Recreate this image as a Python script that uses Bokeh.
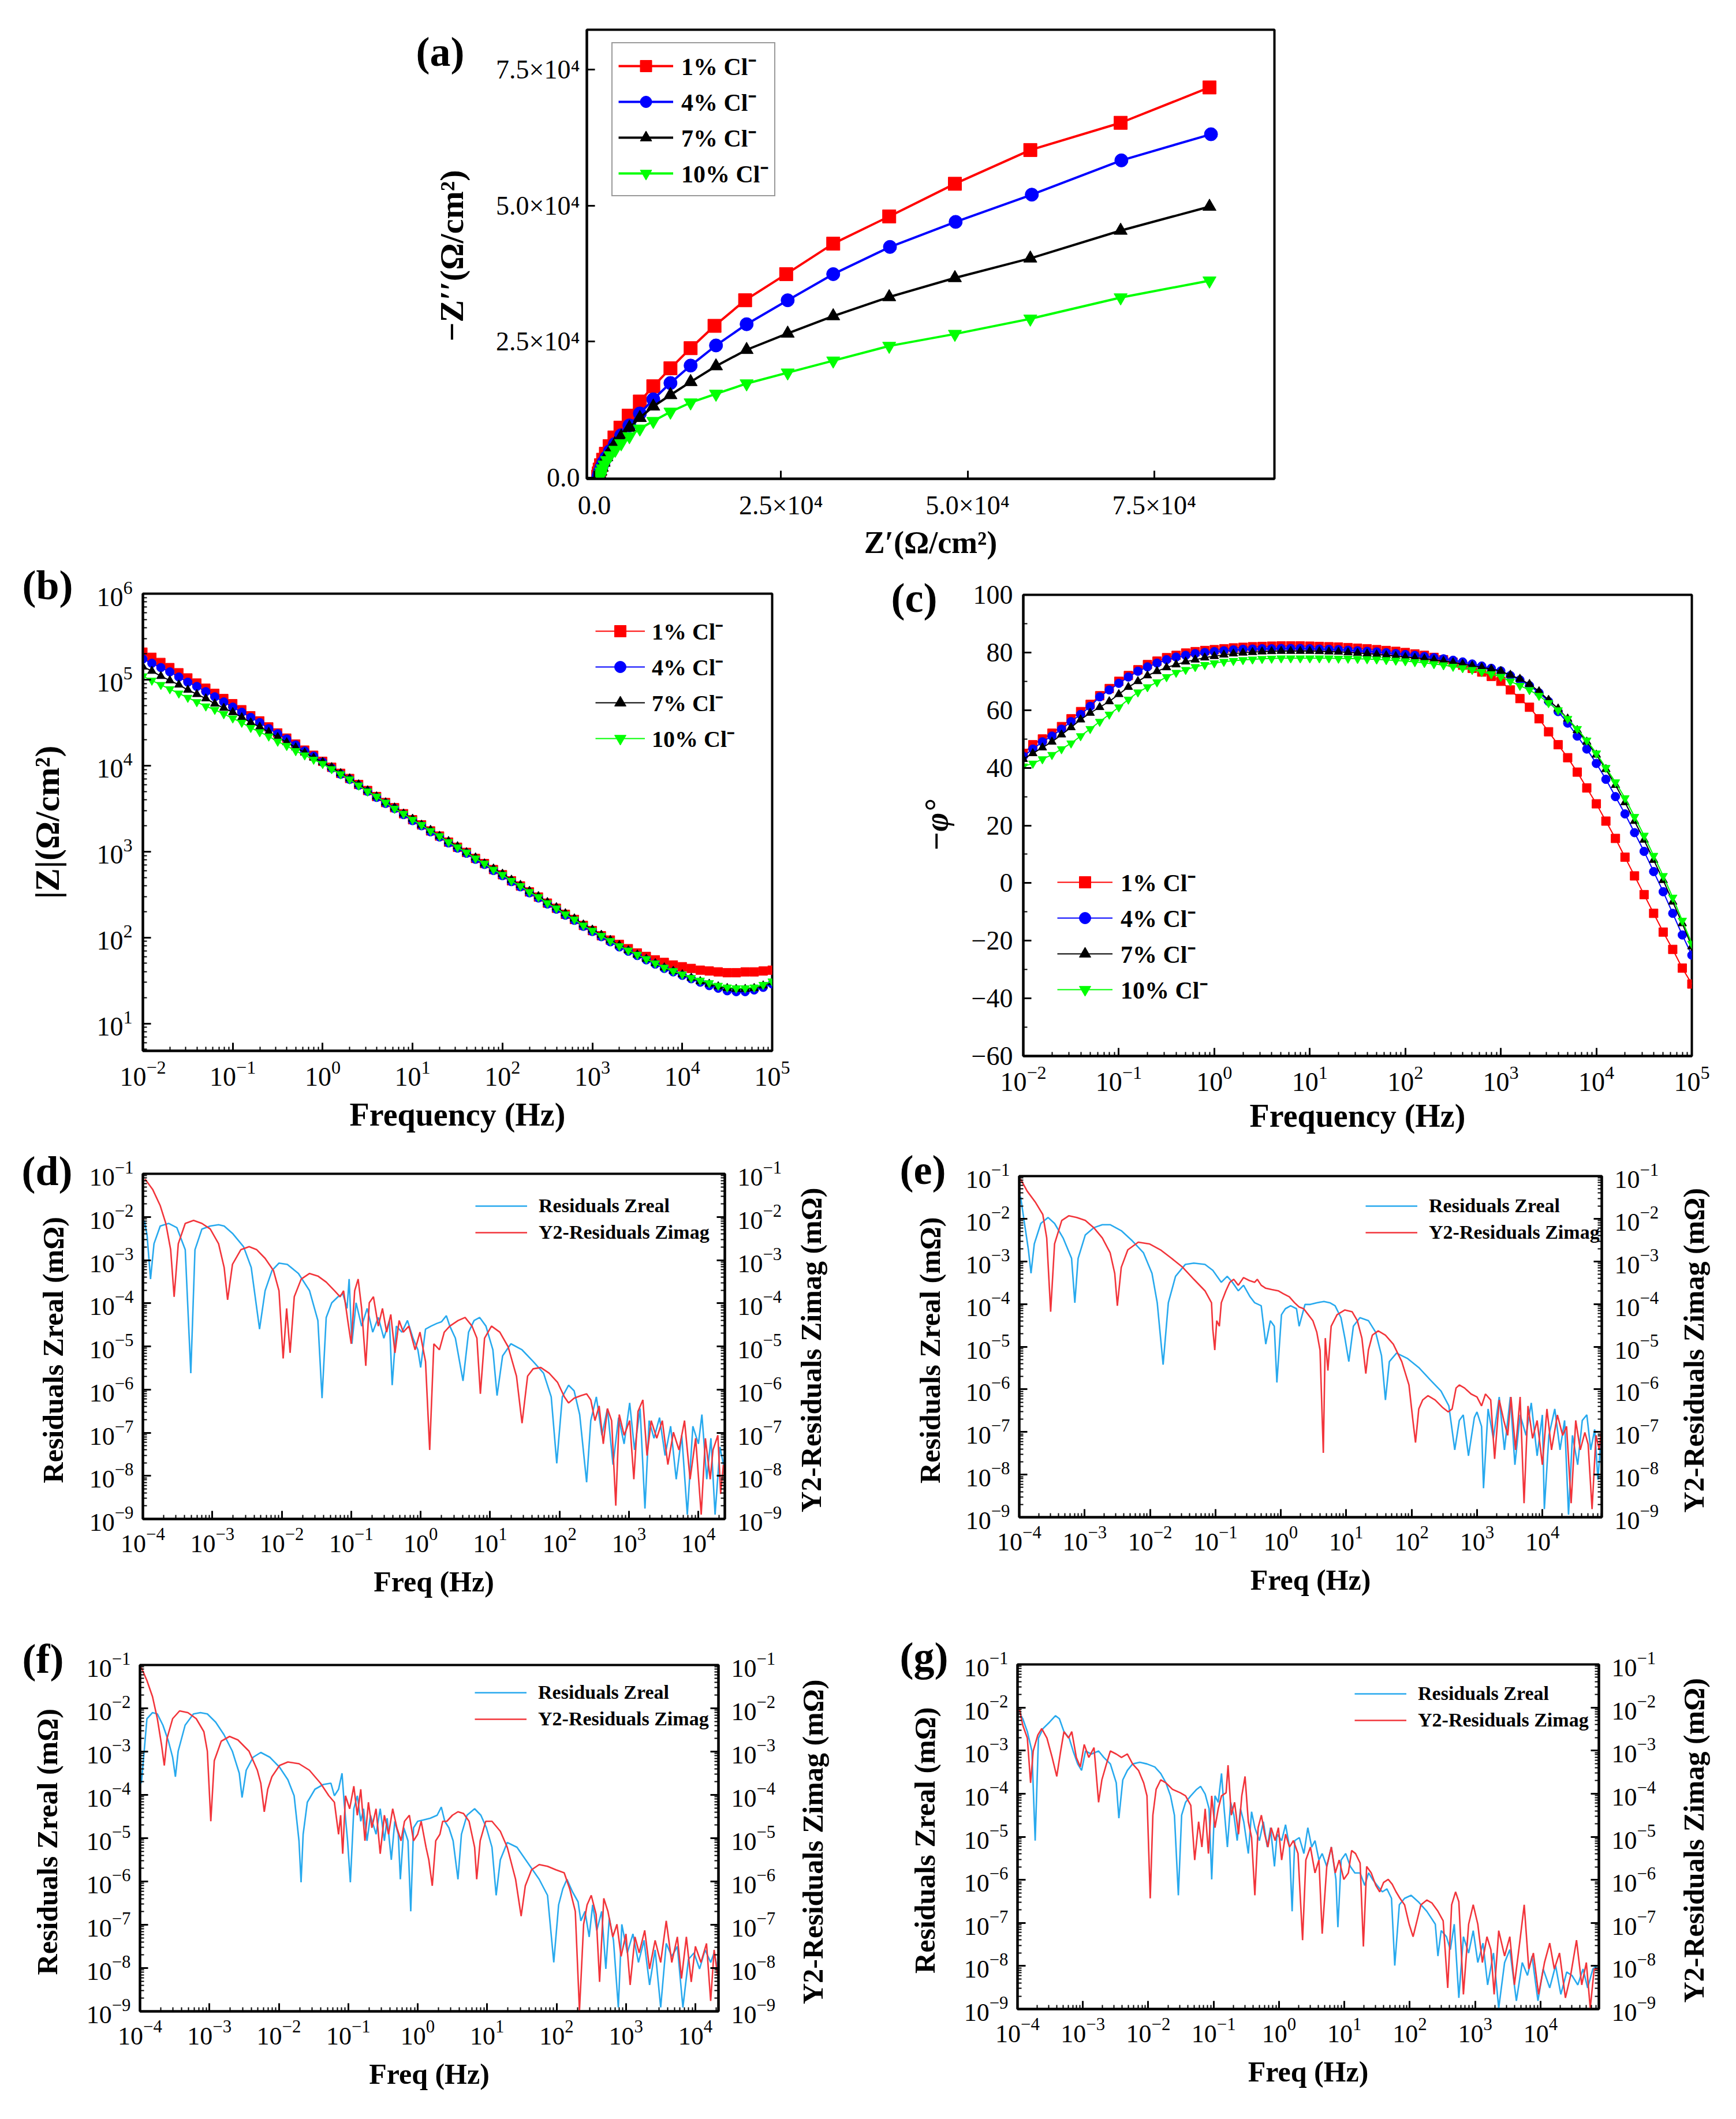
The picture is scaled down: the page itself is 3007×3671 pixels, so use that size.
import numpy as np
from bokeh.plotting import figure
from bokeh.models import (Range1d, LogAxis, Legend, LegendItem, Label, FixedTicker,
                          SingleIntervalTicker, CustomJSTickFormatter, LogScale, Spacer)
from bokeh.layouts import column, row
from bokeh.embed import file_html
from bokeh.resources import INLINE

SERIF = "Liberation Serif"

# ---------------- DATA ----------------
series_names = ["1% Cl\u207b", "4% Cl\u207b", "7% Cl\u207b", "10% Cl\u207b"]
series_colors = ["#ff0000", "#0000ff", "#000000", "#00ff00"]
series_markers = ["square", "circle", "triangle", "inverted_triangle"]

# (a) Nyquist: Z' and -Z'' (ohm cm^2)
nyq_zre_1 = [82400, 70500, 58400, 48300, 39500, 32000, 25700, 20200, 16100, 12900, 10200, 7900, 6100, 4600, 3500, 2700, 2050, 1550, 1180, 900, 720, 600, 520]
nyq_zim_1 = [71700, 65200, 60200, 54000, 48000, 43000, 37400, 32600, 27900, 23800, 20100, 16800, 14000, 11400, 9200, 7400, 5800, 4400, 3300, 2300, 1500, 800, 200]
nyq_zre_4 = [82600, 70600, 58600, 48400, 39600, 32000, 25900, 20400, 16300, 12900, 10200, 7900, 6100, 4700, 3600, 2750, 2100, 1600, 1220, 950, 760, 640, 560]
nyq_zim_4 = [63100, 58300, 52000, 47000, 42400, 37400, 32600, 28200, 24300, 20600, 17400, 14400, 11800, 9600, 7800, 6200, 4900, 3700, 2800, 1900, 1200, 600, 150]
nyq_zre_7 = [82400, 70500, 58400, 48300, 39500, 32000, 25900, 20400, 16300, 12900, 10200, 7900, 6100, 4700, 3600, 2750, 2100, 1600, 1250, 1000, 820, 700, 620]
nyq_zim_7 = [49800, 45400, 40300, 36700, 33200, 29700, 26500, 23500, 20500, 17600, 15200, 13100, 11000, 9200, 7600, 6200, 4900, 3800, 2800, 1900, 1200, 600, 150]
nyq_zre_10 = [82400, 70500, 58400, 48300, 39500, 32000, 25900, 20400, 16300, 12900, 10200, 7900, 6100, 4700, 3600, 2800, 2150, 1700, 1350, 1100, 950, 850, 780]
nyq_zim_10 = [36200, 33100, 29200, 26400, 24200, 21500, 19300, 17300, 15400, 13800, 12100, 10400, 9000, 7600, 6300, 5100, 4100, 3200, 2400, 1700, 1100, 600, 150]

# (b),(c) Bode: log10 frequency (Hz)
bode_log_freq = [-2.0, -1.9, -1.8, -1.7, -1.6, -1.5, -1.4, -1.3, -1.2, -1.1,
                 -1.0, -0.9, -0.8, -0.7, -0.6, -0.5, -0.4, -0.3, -0.2, -0.1,
                 0.0, 0.1, 0.2, 0.3, 0.4, 0.5, 0.6, 0.7, 0.8, 0.9,
                 1.0, 1.1, 1.2, 1.3, 1.4, 1.5, 1.6, 1.7, 1.8, 1.9,
                 2.0, 2.1, 2.2, 2.3, 2.4, 2.5, 2.6, 2.7, 2.8, 2.9,
                 3.0, 3.1, 3.2, 3.3, 3.4, 3.5, 3.6, 3.7, 3.8, 3.9,
                 4.0, 4.1, 4.2, 4.3, 4.4, 4.5, 4.6, 4.7, 4.8, 4.9,
                 5.0]
# log10 |Z|
logZ_1 = [5.32, 5.26, 5.20, 5.14, 5.08, 5.02, 4.96, 4.90, 4.84, 4.78,
          4.72, 4.65, 4.58, 4.52, 4.45, 4.38, 4.32, 4.25, 4.18, 4.12,
          4.05, 3.98, 3.91, 3.85, 3.78, 3.71, 3.64, 3.57, 3.51, 3.44,
          3.37, 3.31, 3.24, 3.18, 3.11, 3.05, 2.99, 2.92, 2.86, 2.79,
          2.73, 2.66, 2.60, 2.53, 2.47, 2.40, 2.34, 2.27, 2.21, 2.14,
          2.08, 2.02, 1.97, 1.92, 1.87, 1.82, 1.78, 1.74, 1.71, 1.68,
          1.66, 1.64, 1.62, 1.61, 1.60, 1.59, 1.59, 1.60, 1.60, 1.61,
          1.62]
logZ_4 = [5.24, 5.19, 5.14, 5.09, 5.03, 4.97, 4.92, 4.86, 4.80, 4.74,
          4.68, 4.62, 4.56, 4.50, 4.43, 4.37, 4.31, 4.24, 4.17, 4.11,
          4.04, 3.97, 3.90, 3.84, 3.77, 3.70, 3.63, 3.56, 3.50, 3.43,
          3.36, 3.30, 3.23, 3.17, 3.10, 3.04, 2.98, 2.91, 2.85, 2.78,
          2.72, 2.65, 2.59, 2.52, 2.46, 2.39, 2.33, 2.26, 2.20, 2.13,
          2.07, 2.01, 1.95, 1.89, 1.84, 1.79, 1.74, 1.69, 1.64, 1.60,
          1.56, 1.52, 1.48, 1.44, 1.41, 1.38, 1.37, 1.37, 1.39, 1.42,
          1.46]
logZ_7 = [5.15, 5.10, 5.04, 4.99, 4.94, 4.88, 4.83, 4.78, 4.72, 4.67,
          4.62, 4.56, 4.50, 4.45, 4.39, 4.33, 4.27, 4.21, 4.15, 4.09,
          4.04, 3.98, 3.91, 3.85, 3.78, 3.71, 3.64, 3.57, 3.51, 3.44,
          3.38, 3.31, 3.25, 3.18, 3.12, 3.06, 2.99, 2.93, 2.86, 2.80,
          2.74, 2.67, 2.61, 2.54, 2.48, 2.41, 2.35, 2.28, 2.22, 2.15,
          2.09, 2.03, 1.97, 1.91, 1.85, 1.80, 1.75, 1.70, 1.65, 1.61,
          1.57, 1.53, 1.49, 1.46, 1.43, 1.41, 1.40, 1.40, 1.41, 1.44,
          1.48]
logZ_10 = [5.04, 4.99, 4.94, 4.89, 4.84, 4.79, 4.74, 4.69, 4.65, 4.60,
           4.55, 4.50, 4.44, 4.39, 4.34, 4.28, 4.23, 4.17, 4.12, 4.07,
           4.02, 3.96, 3.90, 3.84, 3.77, 3.70, 3.64, 3.57, 3.50, 3.44,
           3.37, 3.31, 3.24, 3.18, 3.11, 3.05, 2.99, 2.92, 2.86, 2.79,
           2.73, 2.66, 2.60, 2.53, 2.47, 2.40, 2.34, 2.27, 2.21, 2.14,
           2.08, 2.02, 1.96, 1.90, 1.85, 1.80, 1.75, 1.70, 1.65, 1.61,
           1.57, 1.53, 1.50, 1.47, 1.44, 1.42, 1.41, 1.41, 1.42, 1.45,
           1.49]
# -phase (degrees)
phase_1 = [45, 48, 50, 52, 54.3, 57, 59.5, 62, 65, 67.5,
           70, 72, 74, 75.8, 77, 78.2, 79, 79.8, 80.3, 80.7,
           81, 81.3, 81.6, 81.8, 82, 82.1, 82.2, 82.3, 82.3, 82.3,
           82.2, 82.1, 82, 81.9, 81.7, 81.5, 81.3, 81, 80.7, 80.4,
           80, 79.5, 79, 78.3, 77.5, 76.6, 75.6, 74.5, 73.2, 71.7,
           70, 67, 64, 61, 57, 52.5, 48, 43.5, 38.5, 33,
           27.5, 21.5, 15.5, 9, 2.5, -4, -10.5, -17, -23, -29.5,
           -35]
phase_4 = [44, 46.5, 49, 51, 53.4, 56, 58.5, 61.3, 64.6, 67,
           69.3, 71.5, 73.5, 75, 76.3, 77.5, 78.4, 79, 79.6, 80,
           80.3, 80.6, 80.9, 81.1, 81.2, 81.3, 81.3, 81.4, 81.4, 81.4,
           81.3, 81.2, 81.1, 81, 80.8, 80.6, 80.4, 80.2, 79.9, 79.6,
           79.3, 79, 78.6, 78.2, 77.8, 77.3, 76.7, 76, 75.3, 74.5,
           73.6, 72, 70.5, 68.5, 66, 63, 59.5, 55.5, 51, 46.5,
           41.5, 36, 30, 24, 17.5, 11, 4, -3, -10.5, -18,
           -25]
phase_7 = [43, 45, 47, 49, 51.5, 54, 56.7, 59, 61, 63,
           65.5, 68, 70, 72, 73.5, 74.8, 75.8, 76.8, 77.5, 78.2,
           78.7, 79.2, 79.6, 79.9, 80.1, 80.3, 80.4, 80.5, 80.5, 80.5,
           80.5, 80.4, 80.3, 80.2, 80, 79.8, 79.6, 79.3, 79, 78.7,
           78.4, 78.1, 77.8, 77.4, 77, 76.5, 76, 75.4, 74.8, 74.2,
           73.5, 72.2, 70.8, 69, 66.5, 63.5, 60.5, 57, 53, 49,
           44.5, 39.5, 34, 28, 21.5, 15, 8, 1, -6.5, -14,
           -22]
phase_10 = [40.5, 41.5, 43, 44.5, 46.5, 48.5, 51, 53.5, 56, 58.5,
            61, 63.7, 66.2, 68, 69.7, 71.5, 73, 74, 75, 75.7,
            76.3, 76.8, 77.1, 77.4, 77.6, 77.8, 77.9, 78, 78, 78,
            78, 78, 78, 77.9, 77.9, 77.8, 77.7, 77.6, 77.4, 77.2,
            77, 76.7, 76.4, 76, 75.6, 75.1, 74.6, 74, 73.3, 72.5,
            71.6, 70, 68.5, 67, 65, 62.5, 60, 57, 53.5, 49.5,
            45, 40, 35, 29.5, 23, 16.5, 9.5, 2.5, -5, -13,
            -21]

# (d)-(g) residuals: (log10 frequency [Hz], log10 residual [mOhm])
d_zreal = [(-3.98, -2.08), (-3.94, -2.42), (-3.89, -3.44), (-3.84, -2.62), (-3.75, -2.21), (-3.63, -2.15), (-3.51, -2.25), (-3.39, -2.76), (-3.31, -5.62), (-3.25, -2.76), (-3.15, -2.28), (-3.03, -2.21), (-2.91, -2.18), (-2.83, -2.21), (-2.71, -2.38), (-2.55, -2.69), (-2.44, -3.17), (-2.32, -4.60), (-2.24, -3.71), (-2.14, -3.24), (-2.04, -3.07), (-1.92, -3.10), (-1.76, -3.31), (-1.60, -3.71), (-1.48, -4.40), (-1.42, -6.20), (-1.36, -4.33), (-1.28, -3.99), (-1.19, -3.85), (-1.12, -3.78), (-1.06, -4.12), (-1.03, -3.44), (-0.99, -4.94), (-0.93, -3.99), (-0.85, -4.53), (-0.77, -4.12), (-0.69, -4.67), (-0.61, -4.33), (-0.53, -4.81), (-0.45, -4.40), (-0.41, -5.90), (-0.35, -4.53), (-0.27, -4.67), (-0.19, -4.40), (-0.11, -4.81), (-0.04, -5.08), (0.00, -5.49), (0.07, -4.60), (0.15, -4.53), (0.23, -4.47), (0.30, -4.43), (0.37, -4.29), (0.42, -4.53), (0.50, -4.81), (0.61, -5.80), (0.69, -4.67), (0.77, -4.40), (0.85, -4.33), (0.94, -4.53), (1.04, -5.08), (1.10, -6.14), (1.18, -5.22), (1.30, -4.94), (1.46, -5.08), (1.62, -5.35), (1.77, -5.62), (1.88, -6.17), (1.96, -7.71), (2.04, -6.17), (2.13, -5.90), (2.21, -6.03), (2.29, -6.58), (2.39, -8.15), (2.45, -6.72), (2.53, -6.17), (2.61, -7.06), (2.69, -6.44), (2.77, -7.74), (2.85, -6.65), (2.93, -7.26), (3.01, -6.31), (3.08, -7.40), (3.16, -6.44), (3.23, -8.76), (3.29, -6.72), (3.36, -7.13), (3.44, -6.65), (3.52, -7.53), (3.60, -6.85), (3.68, -8.08), (3.76, -7.06), (3.84, -8.90), (3.92, -6.85), (4.00, -7.26), (4.05, -6.58), (4.12, -8.08), (4.18, -7.13), (4.24, -8.90), (4.31, -7.33), (4.36, -7.74)]
d_zimag = [(-3.97, -1.12), (-3.86, -1.36), (-3.75, -1.74), (-3.67, -2.15), (-3.60, -2.76), (-3.55, -3.85), (-3.49, -2.62), (-3.39, -2.15), (-3.27, -2.08), (-3.15, -2.15), (-3.03, -2.28), (-2.91, -2.62), (-2.83, -3.17), (-2.78, -3.92), (-2.71, -3.10), (-2.59, -2.76), (-2.47, -2.69), (-2.36, -2.76), (-2.24, -2.96), (-2.12, -3.24), (-2.04, -3.71), (-1.98, -5.28), (-1.93, -4.12), (-1.88, -5.15), (-1.82, -3.85), (-1.72, -3.44), (-1.60, -3.31), (-1.48, -3.37), (-1.36, -3.51), (-1.24, -3.71), (-1.16, -3.85), (-1.11, -3.71), (-1.05, -4.40), (-1.00, -4.94), (-0.95, -3.71), (-0.90, -3.44), (-0.85, -4.12), (-0.79, -5.45), (-0.74, -3.99), (-0.68, -3.85), (-0.61, -4.53), (-0.55, -4.12), (-0.49, -4.67), (-0.43, -4.26), (-0.37, -5.15), (-0.31, -4.40), (-0.25, -4.67), (-0.17, -4.53), (-0.08, -5.08), (-0.01, -4.67), (0.07, -5.35), (0.13, -7.40), (0.19, -4.94), (0.27, -5.08), (0.34, -4.67), (0.42, -4.53), (0.54, -4.40), (0.64, -4.33), (0.74, -4.53), (0.81, -4.81), (0.86, -6.10), (0.92, -4.81), (1.02, -4.53), (1.14, -4.67), (1.26, -5.01), (1.38, -5.69), (1.46, -6.78), (1.54, -5.69), (1.62, -5.52), (1.73, -5.49), (1.85, -5.62), (1.97, -5.83), (2.07, -6.17), (2.13, -6.31), (2.21, -6.20), (2.31, -6.14), (2.39, -6.10), (2.45, -6.24), (2.51, -6.72), (2.57, -6.38), (2.63, -7.26), (2.69, -6.44), (2.75, -6.72), (2.81, -8.69), (2.86, -6.58), (2.93, -7.06), (3.01, -6.72), (3.07, -8.08), (3.13, -6.51), (3.20, -6.24), (3.26, -7.53), (3.32, -6.72), (3.40, -7.13), (3.48, -6.72), (3.56, -7.74), (3.64, -6.99), (3.72, -7.40), (3.80, -6.72), (3.88, -8.08), (3.96, -7.13), (4.04, -8.90), (4.10, -7.13), (4.17, -8.08), (4.21, -7.40), (4.28, -7.06), (4.32, -8.42), (4.36, -7.74)]

e_zreal = [(-3.98, -1.48), (-3.92, -2.11), (-3.86, -2.73), (-3.82, -3.28), (-3.77, -2.59), (-3.67, -2.11), (-3.56, -1.97), (-3.46, -2.11), (-3.33, -2.45), (-3.20, -2.93), (-3.15, -3.97), (-3.10, -2.93), (-2.99, -2.38), (-2.86, -2.21), (-2.73, -2.14), (-2.61, -2.14), (-2.44, -2.28), (-2.27, -2.52), (-2.10, -2.80), (-1.97, -3.28), (-1.89, -3.97), (-1.80, -5.42), (-1.72, -3.97), (-1.61, -3.35), (-1.46, -3.07), (-1.33, -3.04), (-1.16, -3.07), (-1.04, -3.21), (-0.91, -3.49), (-0.82, -3.35), (-0.74, -3.49), (-0.65, -3.69), (-0.57, -3.56), (-0.47, -3.83), (-0.40, -3.97), (-0.30, -4.04), (-0.23, -4.94), (-0.16, -4.39), (-0.10, -4.52), (-0.06, -5.84), (0.01, -4.25), (0.07, -4.11), (0.15, -4.04), (0.24, -4.11), (0.28, -4.52), (0.37, -4.01), (0.45, -4.01), (0.55, -3.97), (0.66, -3.94), (0.75, -3.97), (0.83, -4.04), (0.92, -4.32), (0.98, -4.80), (1.04, -5.35), (1.11, -4.52), (1.21, -4.32), (1.34, -4.39), (1.45, -4.66), (1.54, -5.21), (1.60, -6.25), (1.66, -5.35), (1.77, -5.15), (1.94, -5.28), (2.11, -5.49), (2.28, -5.77), (2.45, -6.04), (2.57, -6.39), (2.66, -7.42), (2.73, -6.73), (2.79, -6.60), (2.87, -7.56), (2.96, -6.66), (3.00, -6.53), (3.07, -6.87), (3.10, -8.32), (3.17, -6.46), (3.25, -7.15), (3.34, -6.18), (3.42, -7.42), (3.51, -6.18), (3.58, -7.77), (3.66, -6.60), (3.75, -7.08), (3.83, -6.32), (3.92, -7.56), (4.00, -6.60), (4.03, -8.81), (4.10, -7.08), (4.19, -6.46), (4.27, -7.42), (4.34, -6.73), (4.40, -8.94), (4.46, -7.08), (4.54, -7.77), (4.61, -6.73), (4.68, -6.60), (4.74, -7.42), (4.80, -6.94), (4.85, -8.12), (4.90, -7.08)]
e_zimag = [(-3.98, -1.07), (-3.88, -1.35), (-3.75, -1.62), (-3.64, -1.90), (-3.58, -2.45), (-3.52, -4.18), (-3.46, -2.59), (-3.35, -2.04), (-3.24, -1.93), (-3.12, -1.97), (-2.99, -2.04), (-2.86, -2.21), (-2.73, -2.45), (-2.61, -2.80), (-2.54, -3.28), (-2.50, -4.04), (-2.44, -3.14), (-2.34, -2.73), (-2.18, -2.55), (-2.01, -2.59), (-1.84, -2.73), (-1.67, -2.93), (-1.50, -3.14), (-1.33, -3.42), (-1.16, -3.69), (-1.06, -3.97), (-1.04, -4.59), (-1.01, -5.08), (-0.98, -4.39), (-0.94, -4.52), (-0.91, -3.97), (-0.84, -3.69), (-0.78, -3.49), (-0.72, -3.42), (-0.65, -3.56), (-0.57, -3.38), (-0.48, -3.45), (-0.40, -3.49), (-0.36, -3.42), (-0.30, -3.56), (-0.23, -3.63), (-0.14, -3.66), (-0.04, -3.69), (0.04, -3.76), (0.13, -3.83), (0.21, -3.97), (0.28, -4.07), (0.35, -4.11), (0.42, -4.25), (0.49, -4.39), (0.55, -4.66), (0.60, -5.08), (0.65, -7.49), (0.68, -4.80), (0.72, -5.56), (0.77, -4.52), (0.86, -4.25), (0.98, -4.14), (1.09, -4.18), (1.17, -4.39), (1.24, -4.80), (1.30, -5.63), (1.34, -5.08), (1.40, -4.73), (1.49, -4.63), (1.60, -4.73), (1.72, -4.94), (1.85, -5.35), (1.96, -5.90), (2.02, -6.73), (2.06, -7.25), (2.11, -6.46), (2.17, -6.25), (2.25, -6.15), (2.36, -6.25), (2.47, -6.42), (2.56, -6.53), (2.62, -6.46), (2.68, -5.97), (2.73, -5.90), (2.81, -5.97), (2.91, -6.11), (3.00, -6.18), (3.07, -6.39), (3.13, -6.11), (3.21, -6.25), (3.27, -7.63), (3.34, -6.25), (3.41, -6.73), (3.47, -7.08), (3.52, -6.18), (3.59, -7.42), (3.66, -6.18), (3.72, -8.67), (3.78, -6.39), (3.85, -7.15), (3.92, -6.73), (4.00, -7.77), (4.07, -6.46), (4.14, -7.42), (4.23, -6.60), (4.31, -7.08), (4.37, -6.87), (4.44, -8.67), (4.51, -6.73), (4.58, -7.42), (4.65, -7.01), (4.70, -7.29), (4.76, -8.81), (4.82, -7.08), (4.87, -7.42), (4.90, -7.01)]

f_zreal = [(-3.98, -3.73), (-3.94, -2.99), (-3.90, -2.24), (-3.82, -2.10), (-3.75, -2.13), (-3.67, -2.39), (-3.59, -2.76), (-3.53, -3.13), (-3.49, -3.58), (-3.45, -2.99), (-3.35, -2.39), (-3.23, -2.13), (-3.13, -2.10), (-3.03, -2.13), (-2.91, -2.32), (-2.79, -2.61), (-2.67, -2.99), (-2.57, -3.50), (-2.53, -4.06), (-2.47, -3.43), (-2.37, -3.13), (-2.26, -3.02), (-2.13, -3.13), (-1.99, -3.36), (-1.87, -3.65), (-1.78, -4.02), (-1.71, -5.06), (-1.68, -6.02), (-1.65, -4.91), (-1.59, -4.17), (-1.48, -3.87), (-1.36, -3.76), (-1.25, -3.73), (-1.20, -4.02), (-1.14, -3.87), (-1.09, -3.50), (-1.06, -4.17), (-1.01, -5.06), (-0.97, -6.02), (-0.92, -4.32), (-0.87, -4.02), (-0.82, -4.61), (-0.78, -4.32), (-0.73, -5.06), (-0.68, -4.47), (-0.60, -4.91), (-0.54, -4.32), (-0.48, -5.06), (-0.44, -4.54), (-0.38, -5.50), (-0.33, -4.61), (-0.28, -4.91), (-0.25, -5.95), (-0.20, -4.76), (-0.14, -5.06), (-0.10, -6.69), (-0.06, -4.76), (0.00, -4.61), (0.08, -4.58), (0.18, -4.54), (0.28, -4.47), (0.34, -4.28), (0.39, -4.61), (0.45, -4.76), (0.51, -5.06), (0.58, -5.95), (0.63, -4.91), (0.71, -4.47), (0.82, -4.32), (0.91, -4.47), (0.99, -4.76), (1.07, -5.21), (1.13, -6.32), (1.19, -5.50), (1.29, -5.10), (1.43, -5.21), (1.59, -5.58), (1.75, -5.95), (1.87, -6.32), (1.96, -7.87), (2.03, -6.54), (2.09, -6.17), (2.15, -5.95), (2.23, -6.24), (2.31, -6.47), (2.35, -6.91), (2.41, -6.69), (2.47, -7.28), (2.52, -6.54), (2.58, -7.13), (2.65, -6.69), (2.71, -8.02), (2.76, -6.84), (2.82, -7.36), (2.89, -8.91), (2.94, -6.99), (3.02, -7.65), (3.10, -7.21), (3.18, -7.87), (3.26, -7.36), (3.34, -8.39), (3.42, -7.58), (3.50, -8.91), (3.58, -7.43), (3.66, -7.73), (3.74, -7.50), (3.82, -8.91), (3.90, -7.80), (3.98, -7.65), (4.06, -8.02), (4.14, -7.58), (4.22, -7.87), (4.27, -7.65), (4.32, -8.02)]
f_zimag = [(-3.98, -1.06), (-3.90, -1.36), (-3.82, -1.73), (-3.75, -2.24), (-3.69, -2.84), (-3.65, -3.32), (-3.61, -2.69), (-3.53, -2.24), (-3.43, -2.06), (-3.31, -2.10), (-3.19, -2.24), (-3.08, -2.54), (-3.03, -2.99), (-2.98, -4.61), (-2.93, -3.21), (-2.83, -2.76), (-2.71, -2.65), (-2.59, -2.73), (-2.43, -2.99), (-2.31, -3.43), (-2.26, -3.73), (-2.21, -4.39), (-2.16, -3.87), (-2.10, -3.58), (-1.99, -3.32), (-1.87, -3.24), (-1.71, -3.28), (-1.56, -3.43), (-1.40, -3.73), (-1.28, -4.02), (-1.20, -4.17), (-1.14, -4.91), (-1.11, -4.47), (-1.08, -5.36), (-1.04, -4.02), (-0.98, -4.32), (-0.92, -3.80), (-0.87, -4.47), (-0.82, -3.87), (-0.76, -5.06), (-0.71, -4.17), (-0.66, -4.76), (-0.60, -4.32), (-0.54, -5.36), (-0.48, -4.47), (-0.42, -4.91), (-0.36, -4.32), (-0.30, -4.76), (-0.24, -5.06), (-0.19, -4.61), (-0.12, -4.47), (-0.06, -5.06), (0.00, -4.91), (0.05, -4.61), (0.12, -5.21), (0.16, -5.50), (0.21, -6.10), (0.26, -5.06), (0.32, -4.91), (0.36, -4.61), (0.42, -4.61), (0.50, -4.47), (0.58, -4.39), (0.66, -4.43), (0.74, -4.61), (0.82, -5.21), (0.85, -5.95), (0.90, -5.06), (0.98, -4.61), (1.07, -4.61), (1.19, -4.84), (1.29, -5.21), (1.41, -5.95), (1.49, -6.80), (1.55, -6.10), (1.64, -5.73), (1.75, -5.61), (1.87, -5.65), (1.99, -5.73), (2.11, -5.80), (2.19, -6.17), (2.27, -6.69), (2.33, -8.99), (2.39, -6.99), (2.44, -6.54), (2.50, -6.32), (2.57, -6.76), (2.62, -8.32), (2.68, -6.39), (2.74, -6.69), (2.81, -7.28), (2.87, -6.99), (2.93, -7.73), (3.00, -7.21), (3.06, -8.39), (3.13, -7.28), (3.19, -7.65), (3.27, -7.13), (3.34, -8.02), (3.42, -7.36), (3.50, -7.87), (3.58, -6.91), (3.66, -7.87), (3.74, -7.28), (3.80, -8.24), (3.87, -7.28), (3.94, -8.32), (4.00, -7.50), (4.08, -7.87), (4.16, -7.43), (4.22, -8.76), (4.27, -7.58), (4.32, -8.17)]

g_zreal = [(-3.97, -2.12), (-3.92, -2.26), (-3.85, -2.56), (-3.78, -3.01), (-3.73, -5.09), (-3.68, -2.71), (-3.61, -2.49), (-3.51, -2.34), (-3.42, -2.19), (-3.36, -2.26), (-3.29, -2.56), (-3.21, -2.71), (-3.15, -3.01), (-3.08, -3.31), (-3.02, -3.46), (-2.96, -3.01), (-2.87, -3.08), (-2.76, -3.01), (-2.68, -3.16), (-2.58, -3.31), (-2.49, -3.75), (-2.45, -4.57), (-2.39, -3.68), (-2.32, -3.46), (-2.24, -3.31), (-2.13, -3.27), (-2.02, -3.31), (-1.90, -3.38), (-1.81, -3.53), (-1.73, -3.75), (-1.66, -4.05), (-1.60, -4.50), (-1.54, -6.36), (-1.49, -4.50), (-1.43, -4.20), (-1.35, -4.05), (-1.26, -3.90), (-1.20, -3.83), (-1.13, -4.01), (-1.07, -4.35), (-1.03, -5.99), (-0.98, -4.05), (-0.93, -4.20), (-0.88, -3.53), (-0.84, -4.35), (-0.79, -5.24), (-0.74, -4.20), (-0.69, -4.50), (-0.64, -5.09), (-0.59, -4.35), (-0.54, -4.65), (-0.47, -5.39), (-0.42, -4.42), (-0.37, -4.79), (-0.30, -5.09), (-0.24, -4.65), (-0.18, -5.24), (-0.13, -4.79), (-0.07, -5.69), (-0.03, -4.94), (0.04, -5.09), (0.10, -4.72), (0.16, -5.24), (0.20, -6.73), (0.24, -5.09), (0.31, -5.02), (0.38, -5.39), (0.44, -4.79), (0.50, -5.24), (0.55, -5.09), (0.61, -5.54), (0.66, -5.39), (0.73, -5.69), (0.80, -5.24), (0.87, -5.99), (0.90, -7.10), (0.95, -5.54), (1.02, -5.39), (1.09, -5.69), (1.16, -5.84), (1.24, -5.84), (1.31, -6.13), (1.37, -5.84), (1.43, -5.99), (1.50, -6.13), (1.58, -6.28), (1.65, -6.21), (1.72, -6.43), (1.77, -7.99), (1.84, -6.58), (1.92, -6.43), (2.02, -6.36), (2.13, -6.51), (2.26, -6.73), (2.39, -7.03), (2.43, -7.77), (2.48, -7.18), (2.56, -7.32), (2.62, -7.62), (2.68, -7.03), (2.75, -8.74), (2.82, -7.32), (2.90, -7.70), (2.97, -7.18), (3.04, -7.92), (3.12, -7.47), (3.19, -8.44), (3.28, -7.70), (3.36, -8.98), (3.45, -7.92), (3.53, -7.62), (3.63, -8.81), (3.72, -7.92), (3.80, -8.22), (3.87, -7.77), (3.96, -8.81), (4.04, -8.07), (4.14, -8.51), (4.23, -7.99), (4.31, -8.66), (4.40, -8.14), (4.48, -8.22), (4.57, -8.44), (4.65, -8.07), (4.72, -8.51), (4.80, -8.07), (4.87, -7.99)]
g_zimag = [(-3.97, -2.04), (-3.92, -2.41), (-3.85, -2.71), (-3.80, -3.75), (-3.76, -3.01), (-3.69, -2.64), (-3.63, -2.49), (-3.55, -2.71), (-3.47, -3.16), (-3.40, -3.60), (-3.34, -3.01), (-3.29, -2.56), (-3.22, -2.71), (-3.17, -2.56), (-3.10, -3.16), (-3.04, -3.38), (-2.98, -2.86), (-2.91, -3.16), (-2.83, -2.93), (-2.76, -4.20), (-2.71, -3.68), (-2.64, -3.31), (-2.58, -3.01), (-2.49, -3.08), (-2.41, -3.16), (-2.32, -3.08), (-2.24, -3.31), (-2.15, -3.46), (-2.07, -3.75), (-2.02, -4.05), (-1.97, -6.43), (-1.93, -4.50), (-1.88, -3.90), (-1.81, -3.68), (-1.73, -3.75), (-1.63, -3.90), (-1.51, -3.98), (-1.43, -4.05), (-1.35, -4.27), (-1.29, -5.54), (-1.23, -4.65), (-1.18, -5.24), (-1.13, -4.35), (-1.08, -5.39), (-1.03, -4.05), (-0.98, -4.79), (-0.93, -4.35), (-0.88, -4.05), (-0.81, -3.98), (-0.78, -3.34), (-0.73, -4.50), (-0.68, -4.20), (-0.62, -4.94), (-0.57, -4.05), (-0.52, -3.60), (-0.47, -4.65), (-0.42, -5.02), (-0.37, -6.36), (-0.32, -4.79), (-0.27, -4.50), (-0.22, -4.94), (-0.17, -5.24), (-0.12, -4.79), (-0.06, -5.09), (-0.01, -4.79), (0.04, -5.54), (0.10, -4.94), (0.16, -5.24), (0.22, -5.09), (0.29, -5.39), (0.36, -7.40), (0.41, -5.54), (0.48, -5.24), (0.55, -5.84), (0.61, -5.54), (0.66, -7.25), (0.73, -5.69), (0.80, -5.24), (0.86, -5.84), (0.92, -5.54), (0.99, -5.99), (1.06, -5.84), (1.11, -5.32), (1.17, -5.39), (1.24, -5.61), (1.29, -7.55), (1.34, -5.69), (1.41, -5.84), (1.48, -6.13), (1.54, -6.28), (1.60, -6.06), (1.67, -5.99), (1.73, -6.10), (1.79, -6.28), (1.85, -6.43), (1.92, -6.58), (1.99, -7.03), (2.05, -7.32), (2.11, -6.95), (2.17, -6.58), (2.26, -6.47), (2.34, -6.54), (2.43, -6.73), (2.51, -6.95), (2.58, -8.51), (2.64, -6.58), (2.70, -6.28), (2.75, -6.51), (2.82, -8.66), (2.90, -7.03), (2.97, -6.58), (3.04, -7.03), (3.11, -7.92), (3.18, -7.32), (3.24, -7.62), (3.29, -8.66), (3.36, -7.18), (3.45, -7.77), (3.53, -7.32), (3.60, -8.44), (3.68, -7.47), (3.75, -6.58), (3.82, -8.07), (3.89, -7.70), (3.97, -8.66), (4.06, -7.92), (4.14, -7.47), (4.21, -8.07), (4.29, -7.70), (4.38, -8.74), (4.46, -8.22), (4.55, -7.40), (4.63, -8.44), (4.70, -7.92), (4.76, -8.98), (4.82, -8.07), (4.87, -8.07)]

RES_BLUE = "#27a9ee"
RES_RED = "#f2343a"


# ---------------- HELPERS ----------------
def make_fig(width, height, left, right, top, bottom, **kw):
    p = figure(width=width, height=height, min_border_left=left, min_border_right=right,
               min_border_top=top, min_border_bottom=bottom, output_backend="svg",
               toolbar_location=None, **kw)
    p.title.visible = False
    p.xgrid.visible = False
    p.ygrid.visible = False
    p.outline_line_color = "black"
    p.outline_line_width = 4
    p.outline_line_alpha = 1.0
    p.background_fill_color = "white"
    p.border_fill_color = "white"
    return p


def gutter(width, height, texts):
    """Blank strip beside a panel that carries the panel letter and the rotated axis title."""
    g = figure(width=width, height=height, x_range=Range1d(0, width), y_range=Range1d(0, height),
               min_border_left=0, min_border_right=0, min_border_top=0, min_border_bottom=0,
               x_axis_location=None, y_axis_location=None, output_backend="svg",
               toolbar_location=None)
    g.title.visible = False
    g.xgrid.visible = False
    g.ygrid.visible = False
    g.outline_line_color = None
    g.background_fill_color = "white"
    g.border_fill_color = "white"
    for text, x, y, size, angle, align, style in texts:
        g.add_layout(Label(x=x, y=y, x_units="screen", y_units="screen", text=text,
                           text_font=SERIF, text_font_style=style, text_font_size=f"{size}px",
                           text_baseline="middle", text_align=align, text_color="black",
                           angle=angle, angle_units="deg"))
    return g


def box(p):
    # wrap every plot on its own so that plots in one row do not align their frames
    return column(p)


def style_axes(p, tick_size, title_size, lab_standoff=14):
    for ax in p.axis:
        ax.axis_line_width = 4
        ax.axis_line_color = "black"
        ax.major_tick_in = 14
        ax.major_tick_out = 0
        ax.minor_tick_in = 7
        ax.minor_tick_out = 0
        ax.major_tick_line_width = 3
        ax.minor_tick_line_width = 2
        ax.major_label_text_font = SERIF
        ax.major_label_text_font_size = f"{tick_size}px"
        ax.major_label_text_color = "black"
        ax.major_label_standoff = lab_standoff
        ax.axis_label_text_font = SERIF
        ax.axis_label_text_font_style = "bold"
        ax.axis_label_text_font_size = f"{title_size}px"
        ax.axis_label_text_color = "black"


def log_ticks(lo_exp, hi_exp, vmax=None):
    major = [10.0 ** e for e in range(lo_exp, hi_exp + 1)]
    minor = []
    for e in range(lo_exp - 1, hi_exp + 1):
        for k in range(2, 10):
            v = k * 10.0 ** e
            if vmax is None or v <= vmax:
                minor.append(v)
    return FixedTicker(ticks=major, minor_ticks=minor)


def make_legend(p, items, loc, font_size, glyph_w, glyph_h, spacing, standoff, border):
    lg = Legend(items=items, location=loc)
    lg.label_text_font = SERIF
    lg.label_text_font_style = "bold"
    lg.label_text_font_size = f"{font_size}px"
    lg.label_text_color = "black"
    lg.glyph_width = glyph_w
    lg.glyph_height = glyph_h
    lg.label_height = glyph_h
    lg.spacing = spacing
    lg.padding = 10
    lg.label_standoff = standoff
    if border:
        lg.border_line_color = "#333333"
        lg.border_line_width = 2
        lg.background_fill_color = "white"
        lg.background_fill_alpha = 1.0
    else:
        lg.border_line_color = None
        lg.background_fill_alpha = 0.0
    p.add_layout(lg)
    return lg


LETTER = 72

# ---------------- row 1: (a) Nyquist ----------------
R1 = 964
ga = gutter(838, R1, [("(a)", 712, R1 - 81, LETTER, 0, "left", "bold"),
                      ("\u2212Z\u2032\u2032(\u03a9/cm\u00b2)", 774, R1 - 434.5, 58, 90, "center", "bold")])
pa = make_fig(2153, R1, 170, 792, 43, 138,
              x_range=Range1d(-1000, 91100), y_range=Range1d(-200, 82300))
nyq_fmt = CustomJSTickFormatter(
    code="return tick == 0 ? '0.0' : (tick / 10000).toFixed(1) + '\u00d710\u2074';")
pa.xaxis.ticker = FixedTicker(ticks=[0, 25000, 50000, 75000])
pa.yaxis.ticker = FixedTicker(ticks=[0, 25000, 50000, 75000])
pa.xaxis.formatter = nyq_fmt
pa.yaxis.formatter = nyq_fmt
pa.xaxis.axis_label = "Z\u2032(\u03a9/cm\u00b2)"
nyq = [(nyq_zre_1, nyq_zim_1), (nyq_zre_4, nyq_zim_4), (nyq_zre_7, nyq_zim_7), (nyq_zre_10, nyq_zim_10)]
items_a = []
for (xs, ys), name, col, mk in zip(nyq, series_names, series_colors, series_markers):
    r1 = pa.line(xs, ys, line_color=col, line_width=4)
    r2 = pa.scatter(xs, ys, marker=mk, size=23, fill_color=col, line_color=col)
    items_a.append(LegendItem(label=name, renderers=[r1, r2]))
make_legend(pa, items_a, (43, 489), 42, 95, 50, 5, 14, True)
style_axes(pa, 46, 54)
pa.xaxis.major_label_standoff = 20
pa.yaxis.major_label_standoff = 12
pa.xaxis.axis_label_standoff = 6

# ---------------- row 2: (b) |Z| and (c) phase ----------------
R2 = 1014
freq = 10 ** np.array(bode_log_freq)
gb = gutter(130, R2, [("(b)", 30, R2 - 41, LETTER, 0, "left", "bold"),
                      ("|Z|(\u03a9/cm\u00b2)", 73, R2 - 452, 60, 90, "center", "bold")])
pb = make_fig(1370, R2, 109, 171, 56, 166, x_axis_type="log", y_axis_type="log",
              x_range=Range1d(0.01, 1e5), y_range=Range1d(4.8, 1e6))
pb.xaxis.ticker = log_ticks(-2, 5)
pb.yaxis.ticker = log_ticks(0, 6)
pb.xaxis.axis_label = "Frequency (Hz)"
items_b = []
for lz, name, col, mk in zip([logZ_1, logZ_4, logZ_7, logZ_10], series_names, series_colors, series_markers):
    zz = 10 ** np.array(lz)
    r1 = pb.line(freq, zz, line_color=col, line_width=2)
    r2 = pb.scatter(freq, zz, marker=mk, size=15, fill_color=col, line_color=col)
    items_b.append(LegendItem(label=name, renderers=[r1, r2]))
make_legend(pb, items_b, (784, 514), 40, 86, 50, 7, 12, False)
style_axes(pb, 46, 56, 18)
pb.xaxis.axis_label_standoff = 16

gc = gutter(164, R2, [("(c)", 35, R2 - 63, LETTER, 0, "left", "bold"),
                      ("\u2212\u03c6\u00b0", 113, R2 - 457.5, 56, 90, "center", "bold italic")])
pc = make_fig(1327, R2, 100, 69, 58, 157, x_axis_type="log",
              x_range=Range1d(0.01, 1e5), y_range=Range1d(-60, 100))
pc.xaxis.ticker = log_ticks(-2, 5)
pc.yaxis.ticker = SingleIntervalTicker(interval=20, num_minor_ticks=2)
pc.xaxis.axis_label = "Frequency (Hz)"
items_c = []
for ph, name, col, mk in zip([phase_1, phase_4, phase_7, phase_10], series_names, series_colors, series_markers):
    r1 = pc.line(freq, ph, line_color=col, line_width=2)
    r2 = pc.scatter(freq, ph, marker=mk, size=15, fill_color=col, line_color=col)
    items_c.append(LegendItem(label=name, renderers=[r1, r2]))
make_legend(pc, items_c, (59, 87), 42, 96, 50, 5, 14, False)
style_axes(pc, 46, 56, 18)
pc.xaxis.axis_label_standoff = 9


# ---------------- rows 3-4: residuals (d)-(g) ----------------
def residual_panel(width, height, left, right, top, bottom, xmax, zreal, zimag, legend_loc):
    p = make_fig(width, height, left, right, top, bottom, x_axis_type="log", y_axis_type="log",
                 x_range=Range1d(1e-4, xmax), y_range=Range1d(1e-9, 1e-1))
    p.extra_y_ranges = {"y2": Range1d(1e-9, 1e-1)}
    if "extra_y_scales" in p.properties():
        p.extra_y_scales = {"y2": LogScale()}
    xr = 10 ** np.array([a for a, b in zreal])
    yr = 10 ** np.array([b for a, b in zreal])
    xi = 10 ** np.array([a for a, b in zimag])
    yi = 10 ** np.array([b for a, b in zimag])
    r1 = p.line(xr, yr, line_color=RES_BLUE, line_width=2.6)
    r2 = p.line(xi, yi, line_color=RES_RED, line_width=2.6, y_range_name="y2")
    ax2 = LogAxis(y_range_name="y2", ticker=log_ticks(-9, -1))
    p.add_layout(ax2, "right")
    p.xaxis.ticker = log_ticks(-4, 4, vmax=xmax)
    p.yaxis[0].ticker = log_ticks(-9, -1)
    p.xaxis.axis_label = "Freq (Hz)"
    style_axes(p, 44, 50, 16)
    p.xaxis.axis_label_standoff = 20
    ax2.major_label_standoff = 22
    items = [LegendItem(label="Residuals Zreal", renderers=[r1]),
             LegendItem(label="Y2-Residuals Zimag", renderers=[r2])]
    make_legend(p, items, legend_loc, 34, 90, 40, 6, 20, False)
    return p


def res_left(width, height, letter, lx, ly, tx, ty):
    return gutter(width, height, [(letter, lx, ly, LETTER, 0, "left", "bold"),
                                  ("Residuals  Zreal (m\u03a9)", tx, ty, 50, 90, "center", "bold")])


def res_right(width, height, tx, ty):
    return gutter(width, height, [("Y2-Residuals  Zimag (m\u03a9)", tx, ty, 50, 90, "center", "bold")])


R3 = 812
gd = res_left(140, R3, "(d)", 29, R3 - 42, 83, R3 - 346)
pd_ = residual_panel(1210, R3, 99, 103, 47, 167, 2.4e4, d_zreal, d_zimag, (576, 476))
gdr = res_right(150, R3, 46, R3 - 346)
ge = res_left(160, R3, "(e)", 50, R3 - 40, 102, R3 - 346.5)
pe = residual_panel(1210, R3, 97, 104, 51, 170, 8.1e4, e_zreal, e_zimag, (600, 473))
ger = res_right(121, R3, 55, R3 - 346.5)

R4 = 865
gf = res_left(138, R4, "(f)", 30, R4 - 75, 73, R4 - 386)
pf = residual_panel(1207, R4, 96, 109, 86, 179, 2.15e4, f_zreal, f_zimag, (580, 486))
gfr = res_right(155, R4, 54, R4 - 386)
gg = res_left(158, R4, "(g)", 50, R4 - 72, 93, R4 - 383.5)
pg = residual_panel(1208, R4, 96, 105, 85, 183, 7.8e4, g_zreal, g_zimag, (584, 480))
ggr = res_right(125, R4, 59, R4 - 383.5)

body = column(row(box(ga), box(pa)),
              row(box(gb), box(pb), box(gc), box(pc)),
              row(box(gd), box(pd_), box(gdr), box(ge), box(pe), box(ger)),
              row(box(gf), box(pf), box(gfr), box(gg), box(pg), box(ggr)))
layout = column(Spacer(width=2999, height=8), row(Spacer(width=8, height=10), body))
open("out.html", "w").write(file_html(layout, INLINE))
